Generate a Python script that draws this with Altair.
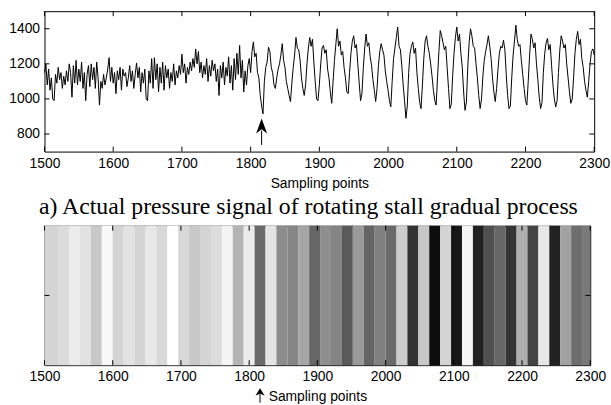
import altair as alt
import pandas as pd

# ---------------- data ----------------
STEP = 2  # samples between listed points

seg_a_start = 1500
seg_a = [1150, 1200, 1080, 1170, 1050, 1120, 1000, 990, 1140, 1090,
         1180, 1110, 1150, 1060, 1130, 1080, 1160, 1100, 1200, 1150,
         1010, 1190, 1090, 1220, 1080, 1170, 1100, 1210, 1060, 1150,
         990, 1140, 1190, 1070, 1200, 1110, 1180, 1060, 1210, 1120,
         965, 1100, 1060, 1140, 1080, 1120, 1170, 1235, 1100, 1180,
         1090, 1150, 1030, 1160, 1110, 1180, 1050, 1170, 1130, 1150,
         1070, 1120, 1190, 1100, 1160, 1060, 1140, 1205, 1120, 1180,
         1040, 1150, 1090, 1170, 1000, 990, 1160, 1090, 1230, 1060,
         1235, 1110, 1200, 1040, 1180, 1090, 1210, 1050, 1190, 1120,
         1170, 1060, 1150, 1100, 1200, 1080, 1160, 1120, 1190, 1140,
         1255]

seg_b_start = 1702
seg_b = [1150, 1200, 1090, 1180, 1140, 1210, 1160, 1230, 1180, 1285,
         1200, 1270, 1150, 1210, 1120, 1190, 1140, 1230, 1100, 1190,
         1130, 1220, 1160, 1200, 1100, 1170, 1020, 1190, 1120, 1210,
         1080, 1180, 1130, 1240, 1090, 1190, 1050, 1230, 1110, 1260,
         1140, 1305, 1120, 1220, 1040, 1160, 1080, 1190, 1230, 1150,
         1270, 1325, 1240, 1260, 1150, 1120, 1020, 960, 915, 1100]

seg_c_start = 1822
seg_c = [1180, 1210, 1295, 1270, 1180, 1150, 1080, 1060, 1120, 1170,
         1200, 1250, 1315, 1220, 1180, 1100, 1060, 1020, 985, 1090,
         1180, 1250, 1350, 1290, 1280, 1220, 1120, 1060, 1020, 1080,
         1200, 1290, 1350, 1300, 1340, 1210, 1100, 1000, 990]

seg_d_start = 1900
seg_d = [1080, 1200, 1290, 1305, 1260, 1280, 1170, 1120, 1040, 975,
         1100, 1220, 1310, 1400, 1300, 1330, 1250, 1270, 1180, 1120,
         1040, 1030, 1150, 1260, 1330, 1360, 1290, 1310, 1200, 1090,
         990, 1030, 1180, 1290, 1370, 1300, 1320, 1240, 1190, 1110,
         1050, 985, 1060, 1190, 1270, 1315, 1280, 1250, 1160, 1100,
         1050, 990, 955, 1100, 1230, 1290, 1350, 1410, 1300, 1280,
         1190, 1080, 990, 890, 960, 1150, 1260, 1300, 1325, 1260,
         1290, 1150, 1060, 980, 945, 1080, 1230, 1330, 1360, 1300,
         1260, 1200, 1130, 1050, 990, 965, 1120, 1270, 1390, 1360,
         1320, 1280, 1300, 1180, 1060, 945, 970, 1130, 1260, 1350,
         1410, 1330, 1370, 1260, 1180, 1040, 935, 980, 1180, 1320,
         1400, 1360, 1300, 1290, 1200, 1120, 1020, 945, 1000, 1130,
         1220, 1270, 1310, 1360, 1300, 1230, 1120, 1040, 985, 1060,
         1170, 1260, 1300, 1290, 1335, 1280, 1140, 1020, 945, 960,
         1120, 1250, 1330, 1420, 1340, 1300, 1310, 1220, 1140, 1060,
         990, 965, 1100, 1250, 1370, 1340, 1290, 1320, 1200, 1110,
         1010, 945, 980, 1150, 1260, 1320, 1345, 1280, 1310, 1190,
         1080, 1000, 955, 990, 1150, 1280, 1360, 1330, 1290, 1310,
         1200, 1120, 1040, 975, 1000, 1120, 1260, 1340, 1385, 1310,
         1340, 1230, 1180, 1100, 1050, 1010, 1100, 1200, 1270, 1285,
         1250]

x_ticks = [1500, 1600, 1700, 1800, 1900, 2000, 2100, 2200, 2300]
y_ticks = [800, 1000, 1200, 1400]

band_edges = [1500, 1520, 1536, 1552, 1568, 1584, 1600, 1616, 1632, 1648,
              1664, 1680, 1696, 1712, 1728, 1744, 1760, 1776, 1792, 1808,
              1824, 1840, 1856, 1872, 1888, 1904, 1920, 1936, 1952, 1968,
              1984, 2000, 2016, 2032, 2048, 2064, 2080, 2096, 2112, 2128,
              2144, 2160, 2176, 2192, 2208, 2224, 2240, 2256, 2272, 2288,
              2300]
band_gray = [212, 220, 236, 226, 200, 248, 212, 226, 212, 232,
             216, 255, 216, 200, 212, 220, 244, 180, 236, 106,
             228, 140, 134, 166, 102, 142, 132, 90, 154, 100,
             128, 106, 204, 50, 198, 13, 212, 23, 245, 33,
             80, 103, 52, 175, 68, 231, 34, 162, 110, 121]

arrow_at = [1816]
top_arrow_tip = [888]
top_arrow_stem_top = [820]
top_arrow_tail = [738]
bot_arrow_tip = [-0.165]
bot_arrow_stem_top = [-0.2]
bot_arrow_tail = [-0.27]

caption = "a) Actual pressure signal of rotating stall gradual process"

# ---------------- build tables ----------------
xs, ys = [], []
for start, seg in [(seg_a_start, seg_a), (seg_b_start, seg_b),
                   (seg_c_start, seg_c), (seg_d_start, seg_d)]:
    for i, v in enumerate(seg):
        xs.append(start + STEP * i)
        ys.append(v)
sig = pd.DataFrame({"x": xs, "p": ys})

bands = pd.DataFrame({
    "x0": band_edges[:-1],
    "x1": band_edges[1:],
    "col": ["#%02x%02x%02x" % (g, g, g) for g in band_gray],
})
xt = pd.DataFrame({"t": x_ticks})
yt = pd.DataFrame({"t": y_ticks})
arr_top = pd.DataFrame({"x": arrow_at, "tip": top_arrow_tip,
                        "stem": top_arrow_stem_top, "tail": top_arrow_tail})
arr_bot = pd.DataFrame({"x": arrow_at, "tip": bot_arrow_tip,
                        "stem": bot_arrow_stem_top, "tail": bot_arrow_tail})

FONT = "Liberation Sans"
W1, H1 = 556, 142
W2, H2 = 552, 141
TL = 5  # inward tick length

xscale = alt.Scale(domain=[1500, 2300], nice=False, zero=False)


def xaxis():
    return alt.Axis(values=x_ticks, format="d", title="Sampling points",
                    ticks=False, domain=False, labelFlush=False,
                    labelOverlap=False, labelPadding=5, titlePadding=6)


# ---------------- top panel ----------------
line = alt.Chart(sig).mark_line(color="black", strokeWidth=1).encode(
    x=alt.X("x:Q", scale=xscale, axis=xaxis()),
    y=alt.Y("p:Q", scale=alt.Scale(domain=[700, 1500], nice=False, zero=False),
            axis=alt.Axis(values=y_ticks, format="d", title=None, ticks=False,
                          domain=False, labelPadding=5)),
)
t_xb = alt.Chart(xt).mark_rule(color="black").encode(
    x="t:Q", y=alt.value(H1 - TL), y2=alt.value(H1))
t_xt = alt.Chart(xt).mark_rule(color="black").encode(
    x="t:Q", y=alt.value(0), y2=alt.value(TL))
t_yl = alt.Chart(yt).mark_rule(color="black").encode(
    y="t:Q", x=alt.value(0), x2=alt.value(TL))
t_yr = alt.Chart(yt).mark_rule(color="black").encode(
    y="t:Q", x=alt.value(W1 - TL), x2=alt.value(W1))
a1_stem = alt.Chart(arr_top).mark_rule(color="black", strokeWidth=1).encode(
    x="x:Q", y="tail:Q", y2="stem:Q")
a1_head = alt.Chart(arr_top).mark_point(
    shape="M0,0L0.37,1L0,0.72L-0.37,1Z", filled=True, color="black",
    opacity=1, size=900, strokeWidth=0).encode(x="x:Q", y="tip:Q")

top = alt.layer(line, t_xb, t_xt, t_yl, t_yr, a1_stem, a1_head).properties(
    width=W1, height=H1)

# ---------------- bottom panel ----------------
rect = alt.Chart(bands).mark_rect(strokeWidth=0).encode(
    x=alt.X("x0:Q", scale=xscale, axis=xaxis()),
    x2="x1:Q",
    color=alt.Color("col:N", scale=None),
)
b_xb = alt.Chart(xt).mark_rule(color="black").encode(
    x="t:Q", y=alt.value(H2 - TL), y2=alt.value(H2))
b_xt = alt.Chart(xt).mark_rule(color="black").encode(
    x="t:Q", y=alt.value(0), y2=alt.value(TL))
a2_stem = alt.Chart(arr_bot).mark_rule(color="black", strokeWidth=1).encode(
    x="x:Q",
    y=alt.Y("tail:Q", scale=alt.Scale(domain=[0, 1], nice=False, zero=False),
            axis=None),
    y2="stem:Q")
a2_head = alt.Chart(arr_bot).mark_point(
    shape="M0,0L0.6,1L0,0.7L-0.6,1Z", filled=True, color="black",
    opacity=1, size=240, strokeWidth=0).encode(x="x:Q", y="tip:Q")
mid = pd.DataFrame({"m": [0.5]})
b_yl = alt.Chart(mid).mark_rule(color="black").encode(
    y="m:Q", x=alt.value(0), x2=alt.value(TL))
b_yr = alt.Chart(mid).mark_rule(color="black").encode(
    y="m:Q", x=alt.value(W2 - TL), x2=alt.value(W2))

bottom = alt.layer(rect, b_xb, b_xt, a2_stem, a2_head, b_yl, b_yr).properties(
    width=W2, height=H2,
    title=alt.TitleParams(caption, font="Liberation Serif", fontSize=24,
                          fontWeight="normal", color="black", anchor="middle",
                          frame="group", offset=6, dx=-9),
)

chart = alt.vconcat(top, bottom, spacing=4).properties(
    padding={"left": 8, "top": 8, "right": 0, "bottom": 0},
    background="white",
).configure_view(stroke="black", strokeWidth=1).configure_axis(
    labelFont=FONT, labelFontSize=14, labelColor="black",
    titleFont=FONT, titleFontSize=14, titleFontWeight="normal",
    titleColor="black", grid=False,
)

chart.save("out.html", embed_options={"renderer": "svg", "actions": False})
